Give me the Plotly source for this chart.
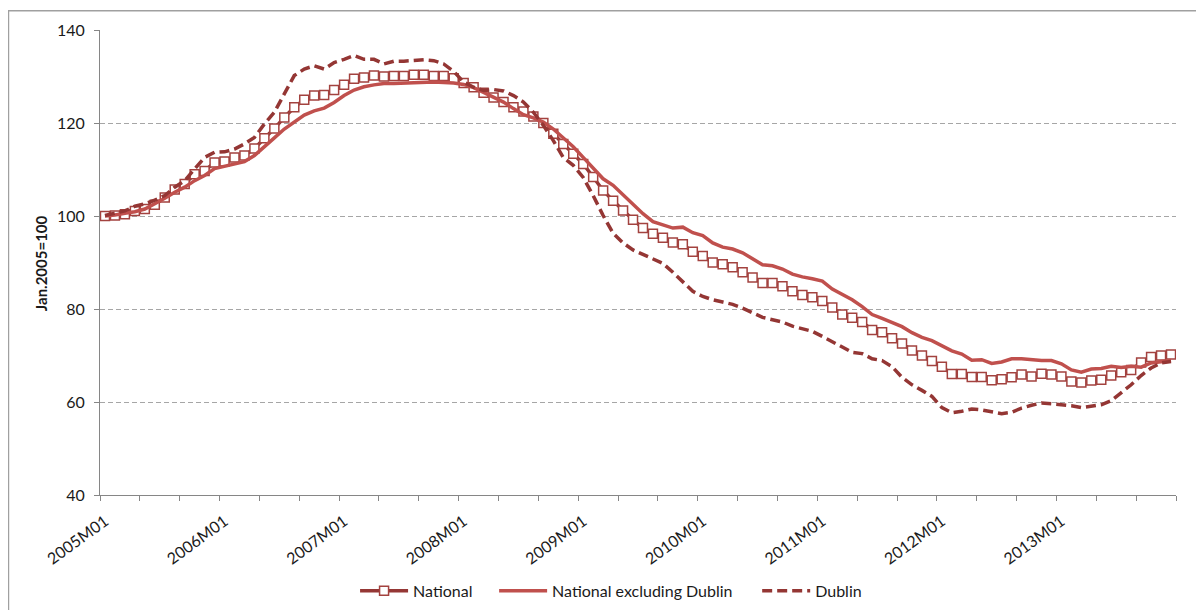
import plotly.graph_objects as go

# ---- data ----
years = list(range(2005, 2014))
months = [f"{y}M{m:02d}" for y in years for m in range(1, 13)]

national = [
    100.0, 100.1, 100.4, 101.1, 101.5, 102.4, 104.0, 105.7, 106.9, 109.0,
    109.7, 111.5, 111.7, 112.6, 113.0, 114.5, 116.7, 118.8, 121.2, 123.4,
    125.0, 125.9, 126.0, 127.1, 128.2, 129.5, 129.8, 130.2, 130.0, 130.1,
    130.1, 130.4, 130.4, 130.1, 130.1, 129.6, 128.6, 127.7, 126.5, 125.5,
    124.5, 123.4, 122.5, 121.4, 120.0, 117.7, 115.5, 113.4, 111.2, 108.4,
    105.5, 103.3, 101.2, 99.2, 97.4, 96.2, 95.3, 94.3, 93.9, 92.3,
    91.4, 90.0, 89.6, 89.0, 87.9, 86.8, 85.6, 85.6, 84.9, 83.8,
    83.0, 82.5, 81.7, 80.3, 78.8, 78.1, 77.2, 75.5, 75.0, 73.7,
    72.6, 71.1, 70.0, 68.8, 67.6, 66.0, 66.0, 65.4, 65.4, 64.7,
    64.9, 65.3, 65.9, 65.5, 66.1, 65.9, 65.5, 64.4, 64.2, 64.6,
    64.8, 65.7, 66.4, 66.9, 68.5, 69.7, 70.0, 70.2,
]

national_ex_dublin = [
    100.0, 100.2, 100.6, 100.9, 101.5, 102.6, 103.8, 105.1, 106.2, 107.6,
    108.7, 110.2, 110.7, 111.2, 111.7, 113.0, 114.8, 116.8, 118.7, 120.1,
    121.7, 122.6, 123.2, 124.4, 125.9, 127.1, 127.8, 128.2, 128.5, 128.5,
    128.6, 128.7, 128.8, 128.8, 128.7, 128.6, 128.3, 127.6, 126.6, 125.5,
    124.5, 123.1, 121.8, 121.1, 120.2, 118.7, 116.9, 114.9, 112.6, 110.4,
    108.0, 106.6, 104.6, 102.4, 100.5, 98.8, 98.1, 97.4, 97.6, 96.4,
    95.8, 94.2, 93.3, 92.9, 92.1, 90.9, 89.5, 89.3, 88.6, 87.5,
    86.9, 86.5, 86.0, 84.3, 83.1, 82.0, 80.5, 78.8, 78.0, 77.2,
    76.2, 74.9, 73.9, 73.2, 72.2, 71.0, 70.3, 69.0, 69.1, 68.3,
    68.6, 69.3, 69.3, 69.1, 68.9, 68.9, 68.2, 66.9, 66.4, 67.1,
    67.2, 67.7, 67.4, 67.7, 67.5, 68.4, 68.7, 68.9,
]

dublin = [
    100.1, 100.6, 101.1, 102.1, 102.6, 103.4, 104.4, 106.2, 107.6, 110.1,
    112.6, 113.7, 113.8, 114.4, 115.5, 116.9, 119.8, 122.3, 126.2, 130.2,
    131.6, 132.3, 131.6, 133.0, 133.7, 134.5, 133.7, 133.7, 132.7, 133.3,
    133.3, 133.4, 133.6, 133.4, 132.7, 131.1, 128.8, 127.7, 127.0, 127.2,
    126.9, 125.9, 124.5, 122.3, 119.5, 116.2, 112.6, 110.9, 108.3, 104.4,
    100.1, 96.3, 94.2, 92.7, 91.7, 90.9, 89.8, 87.9, 85.8, 83.8,
    82.7, 82.0, 81.5, 81.0, 80.2, 79.1, 78.2, 77.7, 77.2, 76.3,
    75.7, 75.2, 74.1, 73.0, 71.8, 70.7, 70.4, 69.3, 68.9, 67.6,
    65.3, 63.7, 62.5, 61.2, 58.8, 57.7, 58.0, 58.5, 58.3, 57.9,
    57.5, 57.8, 58.7, 59.3, 59.8, 59.6, 59.4, 59.2, 58.8, 59.1,
    59.4, 60.3, 61.9, 63.7, 65.7, 67.3, 68.4, 68.7,
]

tick_labels = [f"{y}M01" for y in years]
y_ticks = [40, 60, 80, 100, 120, 140]
y_title = "Jan.2005=100"

# ---- figure ----
xpos = list(range(len(months)))
FONT = "Lato"
TXT = "#1a1a1a"
AX = "#868686"

# page offset (browser body margin)
OFF = 8
W, H = 1204 - OFF, 610 - OFF
PLOT_L, PLOT_R, PLOT_T, PLOT_B = 100, 1175.7, 29.7, 495  # page pixels
L = PLOT_L - OFF
T = PLOT_T - OFF
R = W - (PLOT_R - OFF)
B = H - (PLOT_B - OFF)
pw, ph = W - L - R, H - T - B


def px(xp):
    return (xp - PLOT_L) / pw


def py(yp):
    return (PLOT_B - yp) / ph


fig = go.Figure()
fig.add_trace(go.Scatter(
    x=xpos, y=national, name="National", mode="lines+markers",
    customdata=months, legend="legend",
    line=dict(color="#953735", width=3.5),
    marker=dict(symbol="square", size=9, color="white",
                line=dict(color="#A3423F", width=1.5)),
))
fig.add_trace(go.Scatter(
    x=xpos, y=national_ex_dublin, name="National excluding Dublin", mode="lines",
    customdata=months, legend="legend2",
    line=dict(color="#C0504D", width=3.5),
))
fig.add_trace(go.Scatter(
    x=xpos, y=dublin, name="Dublin", mode="lines",
    customdata=months, legend="legend3",
    line=dict(color="#943634", width=3.5, dash="10px,5px"),
))

leg_common = dict(orientation="h", xanchor="left", yanchor="middle",
                  y=py(591), font=dict(family=FONT, size=16, color=TXT),
                  bgcolor="rgba(0,0,0,0)", itemwidth=48)

fig.update_layout(
    width=W, height=H,
    margin=dict(l=L, r=R, t=T, b=B, pad=0, autoexpand=False),
    paper_bgcolor="white", plot_bgcolor="white",
    font=dict(family=FONT, size=16, color=TXT),
    showlegend=True,
    legend=dict(x=px(355), **leg_common),
    legend2=dict(x=px(494), **leg_common),
    legend3=dict(x=px(757), **leg_common),
    xaxis=dict(
        range=[-0.5, len(months) - 0.5],
        tickmode="array",
        tickvals=[months.index(t) for t in tick_labels],
        ticktext=tick_labels,
        tickangle=-36,
        ticks="",
        ticklabelstandoff=10,
        showgrid=False, zeroline=False,
        showline=True, linecolor=AX, linewidth=1,
        tickfont=dict(family=FONT, size=16, color=TXT),
        minor=dict(
            tickmode="array",
            tickvals=[k - 0.5 for k in range(0, len(months) + 1, 4)],
            ticks="outside", ticklen=5, tickcolor=AX, tickwidth=1,
            showgrid=False,
        ),
    ),
    yaxis=dict(
        range=[40, 140],
        tickmode="array", tickvals=y_ticks,
        ticks="outside", ticklen=5, tickcolor=AX, tickwidth=1,
        ticklabelstandoff=6,
        showgrid=True, gridcolor="#A6A6A6", gridwidth=1, griddash="5px,3px",
        zeroline=False,
        showline=True, linecolor=AX, linewidth=1,
        tickfont=dict(family=FONT, size=16, color=TXT),
    ),
    annotations=[dict(
        text=f"<b>{y_title}</b>", xref="paper", yref="paper",
        x=px(41), y=py(263), xanchor="center", yanchor="middle",
        textangle=-90, showarrow=False,
        font=dict(family=FONT, size=15, color=TXT),
    )],
    shapes=[
        dict(type="line", xref="paper", yref="paper",
             x0=px(8), x1=px(1215), y0=py(10.5), y1=py(10.5),
             line=dict(color="#A0A0A0", width=1.5)),
        dict(type="line", xref="paper", yref="paper",
             x0=px(8.5), x1=px(8.5), y0=py(10), y1=py(620),
             line=dict(color="#A0A0A0", width=1.5)),
    ],
)

fig.write_html("out.html")
